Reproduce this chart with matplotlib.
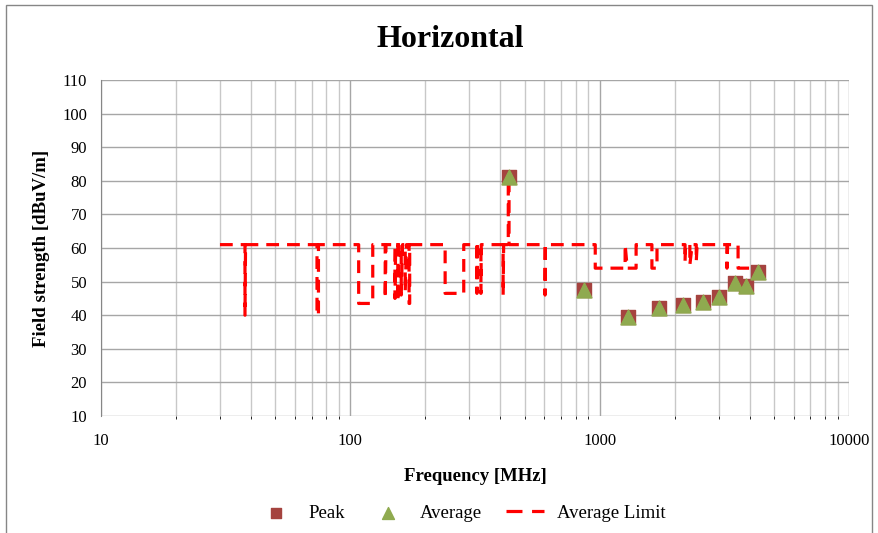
import matplotlib.pyplot as plt
import matplotlib.patches as patches
from matplotlib.ticker import LogLocator, NullFormatter, FixedLocator

plt.rcParams['font.family'] = ['Liberation Serif', 'DejaVu Serif']

# measured points (Peak and Average sit on top of each other)
freq = [433, 865, 1300, 1730, 2160, 2600, 3010, 3490, 3870, 4320]
peak = [81, 47.5, 39.5, 42, 43, 44, 45.5, 49.5, 48.7, 53]
average = [81, 47.5, 39.5, 42, 43, 44, 45.5, 49.5, 48.7, 53]

# average limit trace
limit_freq = [30, 37.8, 37.8, 38.0, 73.5, 73.5, 74.5, 74.5,
              108, 108, 123, 123, 138, 138, 139, 151, 151, 152,
              155, 155, 157, 160, 160, 162, 166, 166, 168, 172, 172, 173, 173,
              240, 240, 285, 285, 322, 322, 323, 334, 334, 335,
              410, 410, 412, 430, 430, 433, 433, 604, 604, 606,
              960, 960, 1100, 1265, 1265, 1290, 1400, 1400, 1620, 1620, 1698, 1698,
              2200, 2200, 2210, 2300, 2300, 2350, 2440, 2440, 2460,
              3240, 3240, 3260, 3590, 3590, 4600]
limit_level = [61, 61, 40, 61, 61, 40, 40, 61,
               61, 43.5, 43.5, 61, 61, 45, 61, 61, 45, 61,
               61, 44, 61, 61, 46, 61, 61, 47, 61, 61, 43.5, 43.5, 61,
               61, 46.5, 46.5, 61, 61, 46.5, 61, 61, 46.5, 61,
               61, 46, 61, 61, 81, 81, 61, 61, 46, 61,
               61, 54, 54, 54, 61, 54, 54, 61, 61, 54, 54, 61,
               61, 56, 61, 61, 55, 61, 61, 56, 61,
               61, 54, 61, 61, 54, 54]

fig = plt.figure(figsize=(8.79, 5.33), dpi=100)
ax = fig.add_axes([101 / 879, 1 - 416 / 533, 748 / 879, 336 / 533])

ax.plot(limit_freq, limit_level, color='#FF0000', linestyle=(0, (4, 2.5)),
        linewidth=2.3, label='Average Limit', zorder=3)
ax.scatter(freq, peak, marker='s', s=95, color='#A5433F', label='Peak', zorder=4)
ax.scatter(freq, average, marker='^', s=115, color='#8FAA4F', label='Average', zorder=5)

ax.set_xscale('log')
ax.set_xlim(10, 10000)
ax.set_ylim(10, 110)
ax.set_yticks(range(10, 111, 10))
ax.xaxis.set_major_locator(FixedLocator([10, 100, 1000, 10000]))
ax.set_xticklabels(['10', '100', '1000', '10000'])
ax.xaxis.set_minor_locator(LogLocator(base=10, subs=range(2, 10)))
ax.xaxis.set_minor_formatter(NullFormatter())

ax.grid(True, which='major', color='#A6A6A6', linewidth=1)
ax.grid(True, which='minor', axis='x', color='#C8C8C8', linewidth=1)
ax.set_axisbelow(True)
for side in ['top', 'right', 'bottom']:
    ax.spines[side].set_visible(False)
ax.spines['left'].set_color('#868686')
ax.tick_params(length=0, labelsize=12)
ax.tick_params(axis='x', pad=12)
ax.tick_params(axis='y', pad=10)

ax.set_xlabel('Frequency [MHz]', fontsize=13.5, fontweight='bold', labelpad=14)
ax.set_ylabel('Field strength [dBuV/m]', fontsize=13.5, fontweight='bold', labelpad=9)
fig.text(0.512, 0.925, 'Horizontal', ha='center', va='center',
         fontsize=23, fontweight='bold')

handles, labels = ax.get_legend_handles_labels()
order = [1, 2, 0]
leg = fig.legend([handles[i] for i in order], [labels[i] for i in order],
                 loc='center', bbox_to_anchor=(0.525, 0.037), ncol=3, frameon=False,
                 fontsize=13.5, handletextpad=0.7, columnspacing=1.3, markerscale=0.8,
                 handlelength=2.0)
leg.get_lines()[0].set_linestyle((0, (5, 3)))

fig.add_artist(patches.Rectangle((6 / 879, -0.02), 866 / 879, 1 - 5 / 533 + 0.02,
                                 transform=fig.transFigure, fill=False,
                                 edgecolor='#868686', linewidth=1))

fig.savefig('out.png', dpi=100)
